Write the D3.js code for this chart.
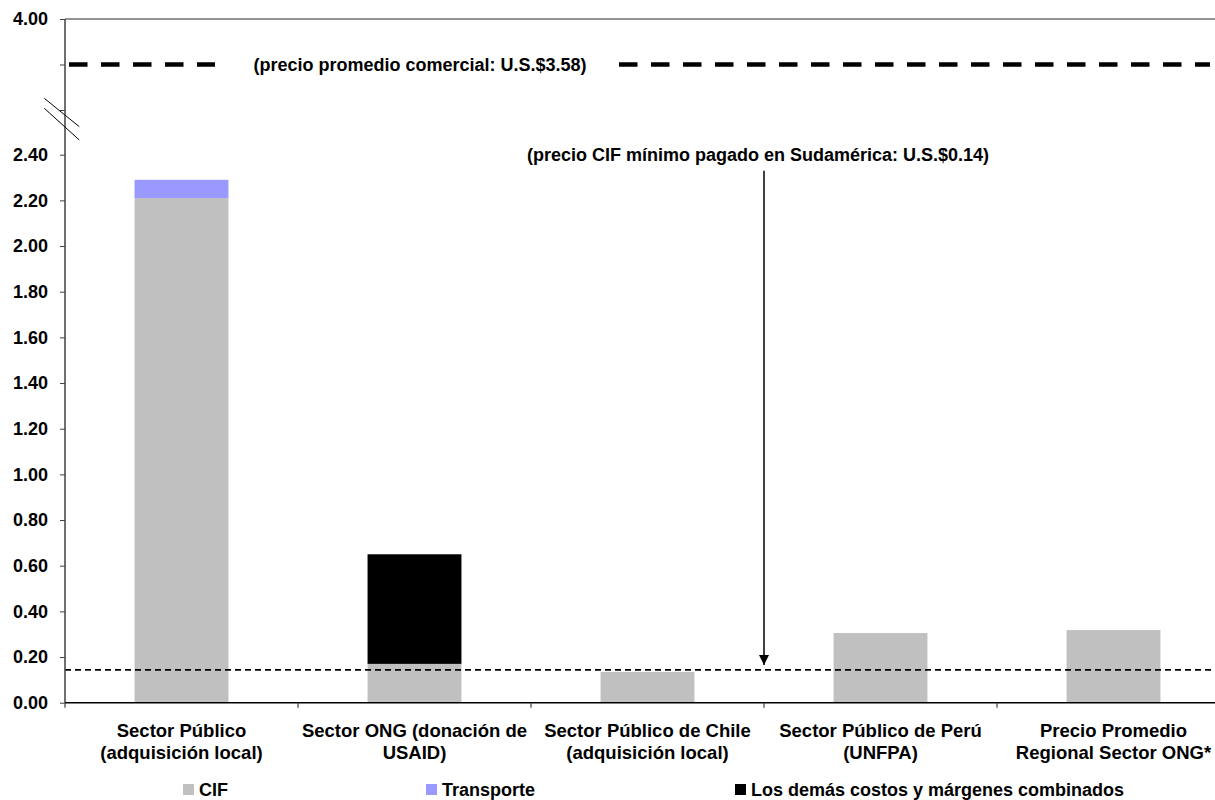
<!DOCTYPE html>
<html>
<head>
<meta charset="utf-8">
<script src="https://cdn.jsdelivr.net/npm/d3@7/dist/d3.min.js"></script>
<style>
  html, body { margin: 0; padding: 0; background: #fff; }
  svg { display: block; }
  text { font-family: "Liberation Sans", Arial, sans-serif; font-weight: bold; fill: #000; }
</style>
</head>
<body>
<svg id="chart" width="1215" height="800"></svg>
<script>
// ---------------- DATA ----------------
const categories = [
  ["Sector Público", "(adquisición local)"],
  ["Sector ONG (donación de", "USAID)"],
  ["Sector Público de Chile", "(adquisición local)"],
  ["Sector Público de Perú", "(UNFPA)"],
  ["Precio Promedio", "Regional Sector ONG*"]
];
const seriesNames = ["CIF", "Transporte", "Los demás costos y márgenes combinados"];
const cifValues = [2.21, 0.17, 0.135, 0.305, 0.318];
const transporteValues = [0.08, 0, 0, 0, 0];
const otrosValues = [0, 0.48, 0, 0, 0];
const lowerTicks = [0, 0.2, 0.4, 0.6, 0.8, 1.0, 1.2, 1.4, 1.6, 1.8, 2.0, 2.2, 2.4];
const upperTicks = [3.16, 3.58, 4.0];
const upperTickLabels = ["", "", "4.00"];
const commercialPrice = 3.58;
const minCifPrice = 0.144;
const commercialLabel = "(precio promedio comercial: U.S.$3.58)";
const minCifLabel = "(precio CIF mínimo pagado en Sudamérica: U.S.$0.14)";
const arrowFrom = 2.33, arrowTo = 0.165;

// ---------------- LAYOUT ----------------
const colors = ["#C0C0C0", "#9999FF", "#000000"];
const svg = d3.select("#chart");
const left = 65, right = 1230, bottom = 702.7;
const fontSize = 18;

const x = d3.scaleBand().domain(d3.range(categories.length))
  .range([left, right]).paddingInner(0.597).paddingOuter(0.2985);
const y = d3.scaleLinear().domain([0, 2.4]).range([bottom, 154.7]);
const yUp = d3.scaleLinear().domain([3.16, 4.0]).range([110, 19]);

// stacked data
const rows = categories.map((c, i) => ({ i, CIF: cifValues[i], Transporte: transporteValues[i], Otros: otrosValues[i] }));
const stack = d3.stack().keys(["CIF", "Transporte", "Otros"])(rows);

// bars
svg.append("g").selectAll("g").data(stack).join("g")
  .attr("fill", (d, k) => colors[k])
  .selectAll("rect").data(d => d.filter(s => s[1] - s[0] > 0)).join("rect")
  .attr("x", d => x(d.data.i))
  .attr("width", x.bandwidth())
  .attr("y", d => y(d[1]))
  .attr("height", d => y(d[0]) - y(d[1]));

// min CIF dashed line
svg.append("line")
  .attr("x1", left).attr("x2", 1215)
  .attr("y1", y(minCifPrice)).attr("y2", y(minCifPrice))
  .attr("stroke", "#000").attr("stroke-width", 1.8)
  .attr("stroke-dasharray", "6,4");

// top border line
svg.append("line")
  .attr("x1", left).attr("x2", 1215)
  .attr("y1", yUp(4.0)).attr("y2", yUp(4.0))
  .attr("stroke", "#707070").attr("stroke-width", 1.5);

// commercial price thick dashed line (two segments around label)
const cy = yUp(commercialPrice);
[[69, 215], [619, 1210]].forEach(([a, b]) => {
  svg.append("line")
    .attr("x1", a).attr("x2", b).attr("y1", cy).attr("y2", cy)
    .attr("stroke", "#000").attr("stroke-width", 4.5)
    .attr("stroke-dasharray", "18.5,13.5");
});
svg.append("text")
  .attr("x", 420).attr("y", cy + 6.5)
  .attr("text-anchor", "middle").attr("font-size", fontSize)
  .text(commercialLabel);

// y axis (lower)
const yAxis = d3.axisLeft(y).tickValues(lowerTicks).tickFormat(d3.format(".2f")).tickSize(5).tickPadding(12);
const gy = svg.append("g").attr("transform", `translate(${left},0)`).call(yAxis);
gy.select(".domain").remove();
gy.selectAll("text").attr("font-size", fontSize).attr("font-family", null).attr("fill", "#000");
gy.selectAll("line").attr("stroke", "#404040");

// y axis (upper)
const yAxisUp = d3.axisLeft(yUp).tickValues(upperTicks).tickFormat((d, i) => upperTickLabels[i]).tickSize(5).tickPadding(12);
const gyu = svg.append("g").attr("transform", `translate(${left},0)`).call(yAxisUp);
gyu.select(".domain").remove();
gyu.selectAll("text").attr("font-size", fontSize).attr("font-family", null).attr("fill", "#000");
gyu.selectAll("line").attr("stroke", "#404040");
svg.selectAll(".tick text").attr("font-weight", "bold");

// y axis line
svg.append("line")
  .attr("x1", left).attr("x2", left)
  .attr("y1", yUp(4.0)).attr("y2", bottom)
  .attr("stroke", "#404040").attr("stroke-width", 1.5);

// break marks
[0, 10].forEach(off => {
  svg.append("line")
    .attr("x1", 44.3).attr("y1", 98.3 + off * 1.0)
    .attr("x2", 79.3).attr("y2", 126.7 + off * 1.33)
    .attr("stroke", "#000").attr("stroke-width", 1);
});

// x axis
svg.append("line")
  .attr("x1", left).attr("x2", 1215)
  .attr("y1", bottom).attr("y2", bottom)
  .attr("stroke", "#000").attr("stroke-width", 1.5);
const boundaries = d3.range(categories.length + 1).map(i => left + i * x.step());
svg.append("g").selectAll("line").data(boundaries).join("line")
  .attr("x1", d => d).attr("x2", d => d)
  .attr("y1", bottom).attr("y2", bottom + 5)
  .attr("stroke", "#404040").attr("stroke-width", 1.2);

// x labels
const xl = svg.append("g").selectAll("text").data(categories).join("text")
  .attr("text-anchor", "middle").attr("font-size", fontSize + 0.5)
  .attr("x", (d, i) => x(i) + x.bandwidth() / 2)
  .attr("y", 737);
xl.selectAll("tspan").data(d => d).join("tspan")
  .attr("x", function () { return this.parentNode.getAttribute("x"); })
  .attr("dy", (d, j) => j === 0 ? 0 : 21.5)
  .text(d => d);

// arrow annotation
const ax = boundaries[3];
svg.append("defs").append("marker")
  .attr("id", "arrow").attr("viewBox", "0 0 10 10")
  .attr("refX", 10).attr("refY", 5)
  .attr("markerWidth", 10).attr("markerHeight", 11)
  .attr("markerUnits", "userSpaceOnUse")
  .attr("orient", "auto")
  .append("path").attr("d", "M0,0 L10,5 L0,10 Z").attr("fill", "#000");
svg.append("line")
  .attr("x1", ax).attr("x2", ax)
  .attr("y1", y(arrowFrom)).attr("y2", y(arrowTo))
  .attr("stroke", "#000").attr("stroke-width", 1.5)
  .attr("marker-end", "url(#arrow)");
svg.append("text")
  .attr("x", 758).attr("y", 161)
  .attr("text-anchor", "middle").attr("font-size", fontSize)
  .text(minCifLabel);

// legend
const legendX = [183, 426, 735];
const lg = svg.append("g").selectAll("g").data(seriesNames).join("g")
  .attr("transform", (d, i) => `translate(${legendX[i]},784)`);
lg.append("rect").attr("width", 11).attr("height", 11).attr("fill", (d, i) => colors[i]);
lg.append("text").attr("x", 16).attr("y", 11.5).attr("font-size", fontSize).text(d => d);
</script>
</body>
</html>
